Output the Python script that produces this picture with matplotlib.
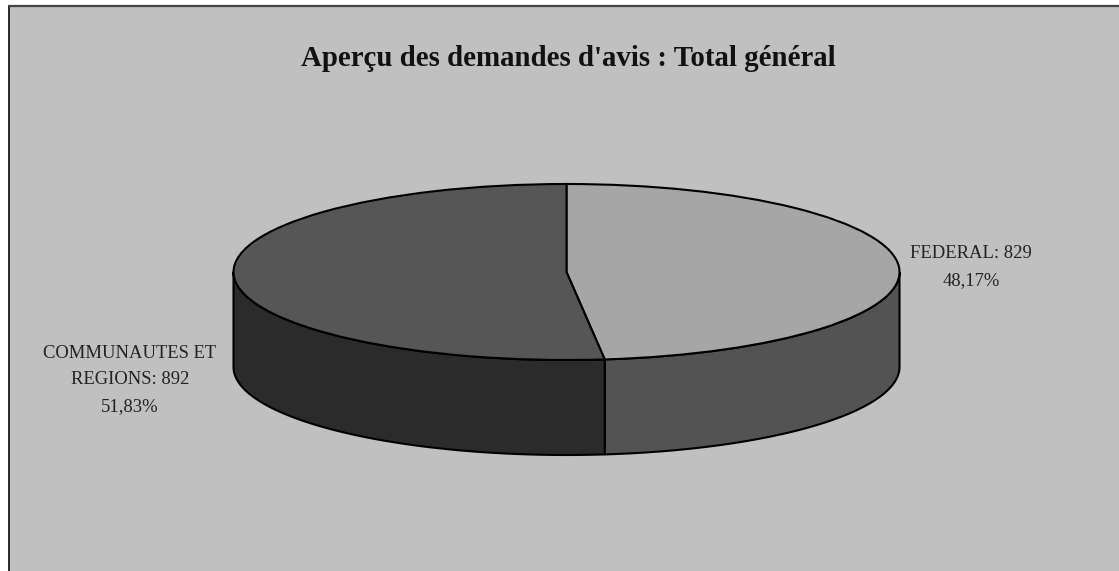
import numpy as np
import matplotlib
matplotlib.use("Agg")
import matplotlib.pyplot as plt
from matplotlib.patches import Polygon, Rectangle

categories = ["FEDERAL", "COMMUNAUTES ET\nREGIONS"]
values = [829, 892]
percent_labels = ["48,17%", "51,83%"]
title = "Aperçu des demandes d'avis : Total général"

W, H = 1119, 571
TOP = ["#a6a6a6", "#565656"]
SIDE = ["#535353", "#2b2b2b"]
BG = "#c0c0c0"
LABEL_SIZE = 13.4

plt.rcParams["font.family"] = ["Liberation Serif", "DejaVu Serif"]
fig = plt.figure(figsize=(W / 100, H / 100), dpi=100, facecolor="white")

# Chart area (pixel space)
bg = fig.add_axes([0, 0, 1, 1])
bg.set_xlim(0, W)
bg.set_ylim(H, 0)
bg.axis("off")
bg.add_patch(Rectangle((8, 6), W - 8, H - 6, fc=BG, ec="none"))
bg.plot([8.5, 8.5], [5.5, H], color="#000000", lw=1.1, solid_capstyle="butt")
bg.plot([8, W], [5.5, 5.5], color="#444444", lw=1.6, solid_capstyle="butt")

bg.text(568.5, 58.5, title, ha="center", va="center", fontsize=20.8, fontweight="bold", color="#111111")
bg.text(971, 254, f"{categories[0]}: {values[0]}", ha="center", va="center", fontsize=LABEL_SIZE, color="#222222")
bg.text(971, 281, percent_labels[0], ha="center", va="center", fontsize=LABEL_SIZE, color="#222222")
lines = categories[1].split("\n")
bg.text(130, 353, lines[0], ha="center", va="center", fontsize=LABEL_SIZE, color="#222222")
bg.text(130, 380, f"{lines[1]}: {values[1]}", ha="center", va="center", fontsize=LABEL_SIZE, color="#222222")
bg.text(130, 407, percent_labels[1], ha="center", va="center", fontsize=LABEL_SIZE, color="#222222")

# Pie: unit circle squashed to an ellipse by the axes box
left, right, top, bottom, depth_px = 233.5, 899.5, 184, 360, 95
ax = fig.add_axes([left / W, 1 - bottom / H, (right - left) / W, (bottom - top) / H])
wedges, _ = ax.pie(values, colors=TOP, startangle=90, counterclock=False, radius=1,
                   wedgeprops=dict(edgecolor="black", linewidth=1.5))
ax.set_aspect("auto")
ax.set_xlim(-1, 1)
ax.set_ylim(-1, 1)
for w in wedges:
    w.set_clip_on(False)
    w.set_zorder(3)

depth = depth_px / ((bottom - top) / 2)
fractions = np.array(values) / np.sum(values)
split = 2 * np.pi * fractions[0]
arcs = [(np.pi / 2, split), (split, 3 * np.pi / 2)]
for (a, b), col in zip(arcs, SIDE):
    t = np.linspace(a, b, 120)
    x, y = np.sin(t), np.cos(t)
    pts = np.r_[np.c_[x, y], np.c_[x, y - depth][::-1]]
    ax.add_patch(Polygon(pts, closed=True, fc=col, ec="black", lw=1.5, clip_on=False, zorder=2, joinstyle="round"))

fig.savefig("out.png", dpi=100, facecolor="white")
